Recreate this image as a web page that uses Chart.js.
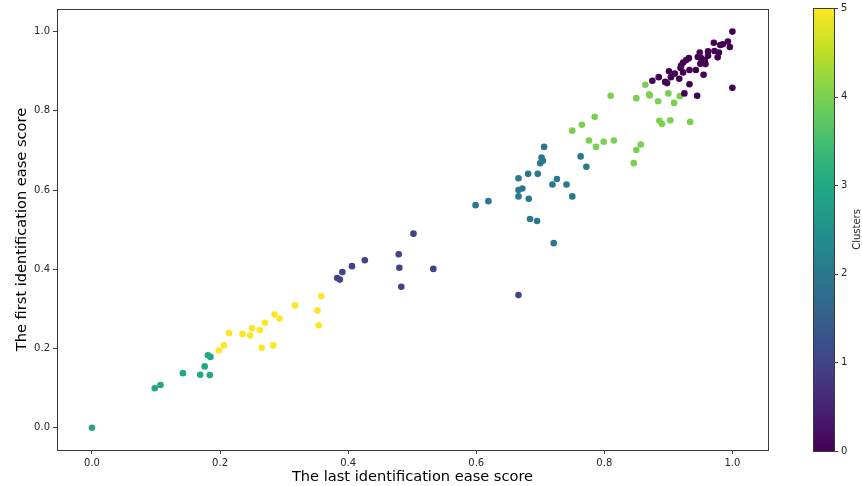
<!DOCTYPE html>
<html>
<head>
<meta charset="utf-8">
<script src="https://cdn.jsdelivr.net/npm/chart.js@4.4.0/dist/chart.umd.min.js"></script>
<style>
html,body{margin:0;padding:0;background:#fff;}
#wrap{width:862px;height:486px;position:relative;}
</style>
</head>
<body>
<div id="wrap"><canvas id="c" width="862" height="486"></canvas></div>
<script>
// ---- data ----
const clusterNames = [0, 1, 2, 3, 4, 5];
const clusterColors = ['#440154', '#414487', '#2a788e', '#22a884', '#7ad151', '#fde725'];

const c0x = [0.875,0.885,0.895,0.898,0.901,0.904,0.910,0.917,0.919,0.923,0.920,0.923,0.928,0.932,0.933,0.943,0.933,0.925,0.945,0.946,0.949,0.951,0.957,0.950,0.958,0.955,0.962,0.962,0.971,0.972,0.979,0.977,0.981,0.985,0.993,0.996,1.000,1.000];
const c0y = [0.876,0.885,0.873,0.870,0.900,0.885,0.894,0.881,0.908,0.897,0.914,0.922,0.928,0.933,0.903,0.903,0.867,0.844,0.838,0.936,0.947,0.933,0.928,0.919,0.918,0.891,0.950,0.939,0.972,0.951,0.947,0.935,0.966,0.968,0.975,0.961,1.000,0.858];

const c1x = [0.383,0.387,0.391,0.406,0.426,0.479,0.480,0.483,0.502,0.533,0.666];
const c1y = [0.378,0.374,0.393,0.408,0.423,0.438,0.404,0.356,0.490,0.401,0.335];

const c2x = [0.599,0.619,0.666,0.666,0.672,0.666,0.681,0.682,0.684,0.695,0.696,0.700,0.702,0.704,0.706,0.719,0.726,0.721,0.741,0.750,0.763,0.772];
const c2y = [0.562,0.572,0.584,0.600,0.604,0.630,0.641,0.578,0.527,0.522,0.641,0.668,0.682,0.674,0.709,0.614,0.628,0.466,0.614,0.584,0.685,0.659];

const c3x = [0.000,0.098,0.107,0.142,0.169,0.176,0.184,0.181,0.185];
const c3y = [0.000,0.100,0.108,0.138,0.134,0.155,0.133,0.183,0.179];

const c4x = [0.750,0.765,0.785,0.776,0.787,0.799,0.815,0.810,0.850,0.864,0.870,0.871,0.884,0.900,0.909,0.918,0.886,0.890,0.903,0.934,0.857,0.850,0.846];
const c4y = [0.750,0.765,0.785,0.725,0.709,0.722,0.725,0.838,0.832,0.866,0.842,0.839,0.824,0.844,0.820,0.837,0.775,0.767,0.776,0.772,0.715,0.701,0.668];

const c5x = [0.198,0.206,0.214,0.235,0.247,0.250,0.262,0.265,0.270,0.283,0.285,0.293,0.317,0.352,0.354,0.358];
const c5y = [0.195,0.208,0.239,0.237,0.233,0.251,0.247,0.202,0.265,0.208,0.286,0.276,0.309,0.296,0.259,0.332];

const xTicks = [0.0, 0.2, 0.4, 0.6, 0.8, 1.0];
const yTicks = [0.0, 0.2, 0.4, 0.6, 0.8, 1.0];
const cbarTicks = [0, 1, 2, 3, 4, 5];
const xTitle = 'The last identification ease score';
const yTitle = 'The first identification ease score';
const cbarTitle = 'Clusters';

// viridis stops for the colour bar
const viridis = ['#440154','#482475','#414487','#355f8d','#2a788e','#21918c','#22a884','#44bf70','#7ad151','#bddf26','#fde725'];

// ---- build ----
const seriesX = [c0x, c1x, c2x, c3x, c4x, c5x];
const seriesY = [c0y, c1y, c2y, c3y, c4y, c5y];
const datasets = clusterNames.map((n, i) => ({
  label: 'Cluster ' + n,
  data: seriesX[i].map((x, j) => ({x: x, y: seriesY[i][j]})),
  backgroundColor: clusterColors[i],
  borderWidth: 0,
  pointRadius: 3.3,
  pointHoverRadius: 3.3
}));

const FONT = 'DejaVu Sans';
const TEXT = '#262626';

const framePlugin = {
  id: 'frame',
  afterDraw(chart) {
    const ctx = chart.ctx, a = chart.chartArea;
    ctx.save();
    ctx.strokeStyle = '#3a3a3a';
    ctx.lineWidth = 1;
    ctx.strokeRect(Math.round(a.left) + 0.5, Math.round(a.top) + 0.5, Math.round(a.right - a.left), Math.round(a.bottom - a.top));
    // colour bar
    const cx0 = 813, cx1 = 834, cy0 = 8, cy1 = 451;
    const g = ctx.createLinearGradient(0, cy1, 0, cy0);
    viridis.forEach((c, i) => g.addColorStop(i / (viridis.length - 1), c));
    ctx.fillStyle = g;
    ctx.fillRect(cx0, cy0, cx1 - cx0, cy1 - cy0);
    ctx.strokeRect(cx0 + 0.5, cy0 + 0.5, cx1 - cx0, cy1 - cy0);
    ctx.fillStyle = TEXT;
    ctx.font = '10px ' + FONT;
    ctx.textAlign = 'left';
    ctx.textBaseline = 'middle';
    const lo = cbarTicks[0], hi = cbarTicks[cbarTicks.length - 1];
    cbarTicks.forEach(t => {
      const y = cy1 - (t - lo) / (hi - lo) * (cy1 - cy0);
      ctx.beginPath();
      ctx.moveTo(cx1, Math.round(y) + 0.5);
      ctx.lineTo(cx1 + 4, Math.round(y) + 0.5);
      ctx.stroke();
      ctx.fillText(String(t), cx1 + 7, y);
    });
    ctx.save();
    ctx.translate(857, (cy0 + cy1) / 2);
    ctx.rotate(-Math.PI / 2);
    ctx.textAlign = 'center';
    ctx.textBaseline = 'middle';
    ctx.fillText(cbarTitle, 0, 0);
    ctx.restore();
    ctx.restore();
  }
};

new Chart(document.getElementById('c'), {
  type: 'scatter',
  data: {datasets},
  options: {
    responsive: false,
    animation: false,
    events: [],
    layout: {padding: {left: 13, top: 8, right: 94, bottom: 0}},
    plugins: {legend: {display: false}, tooltip: {enabled: false}},
    scales: {
      x: {
        type: 'linear',
        min: -0.0546, max: 1.0556,
        afterBuildTicks(s) { s.ticks = xTicks.map(v => ({value: v})); },
        afterFit(s) { s.height = 36; },
        grid: {display: true, drawOnChartArea: false, drawTicks: true, tickLength: 4, color: '#3a3a3a'},
        border: {display: true, color: '#3a3a3a'},
        ticks: {color: TEXT, font: {family: FONT, size: 10}, padding: 3, maxRotation: 0,
          callback: v => Number(v).toFixed(1)},
        title: {display: true, text: xTitle, color: '#000', font: {family: FONT, size: 14.6}, padding: {top: 0, bottom: 0}}
      },
      y: {
        type: 'linear',
        min: -0.056, max: 1.057,
        afterBuildTicks(s) { s.ticks = yTicks.map(v => ({value: v})); },
        afterFit(s) { s.width = 44; },
        grid: {display: true, drawOnChartArea: false, drawTicks: true, tickLength: 4, color: '#3a3a3a'},
        border: {display: true, color: '#3a3a3a'},
        ticks: {color: TEXT, font: {family: FONT, size: 10}, padding: 3,
          callback: v => Number(v).toFixed(1)},
        title: {display: true, text: yTitle, color: '#000', font: {family: FONT, size: 14.6}, padding: {top: 0, bottom: 6}}
      }
    }
  },
  plugins: [framePlugin]
});
</script>
</body>
</html>
